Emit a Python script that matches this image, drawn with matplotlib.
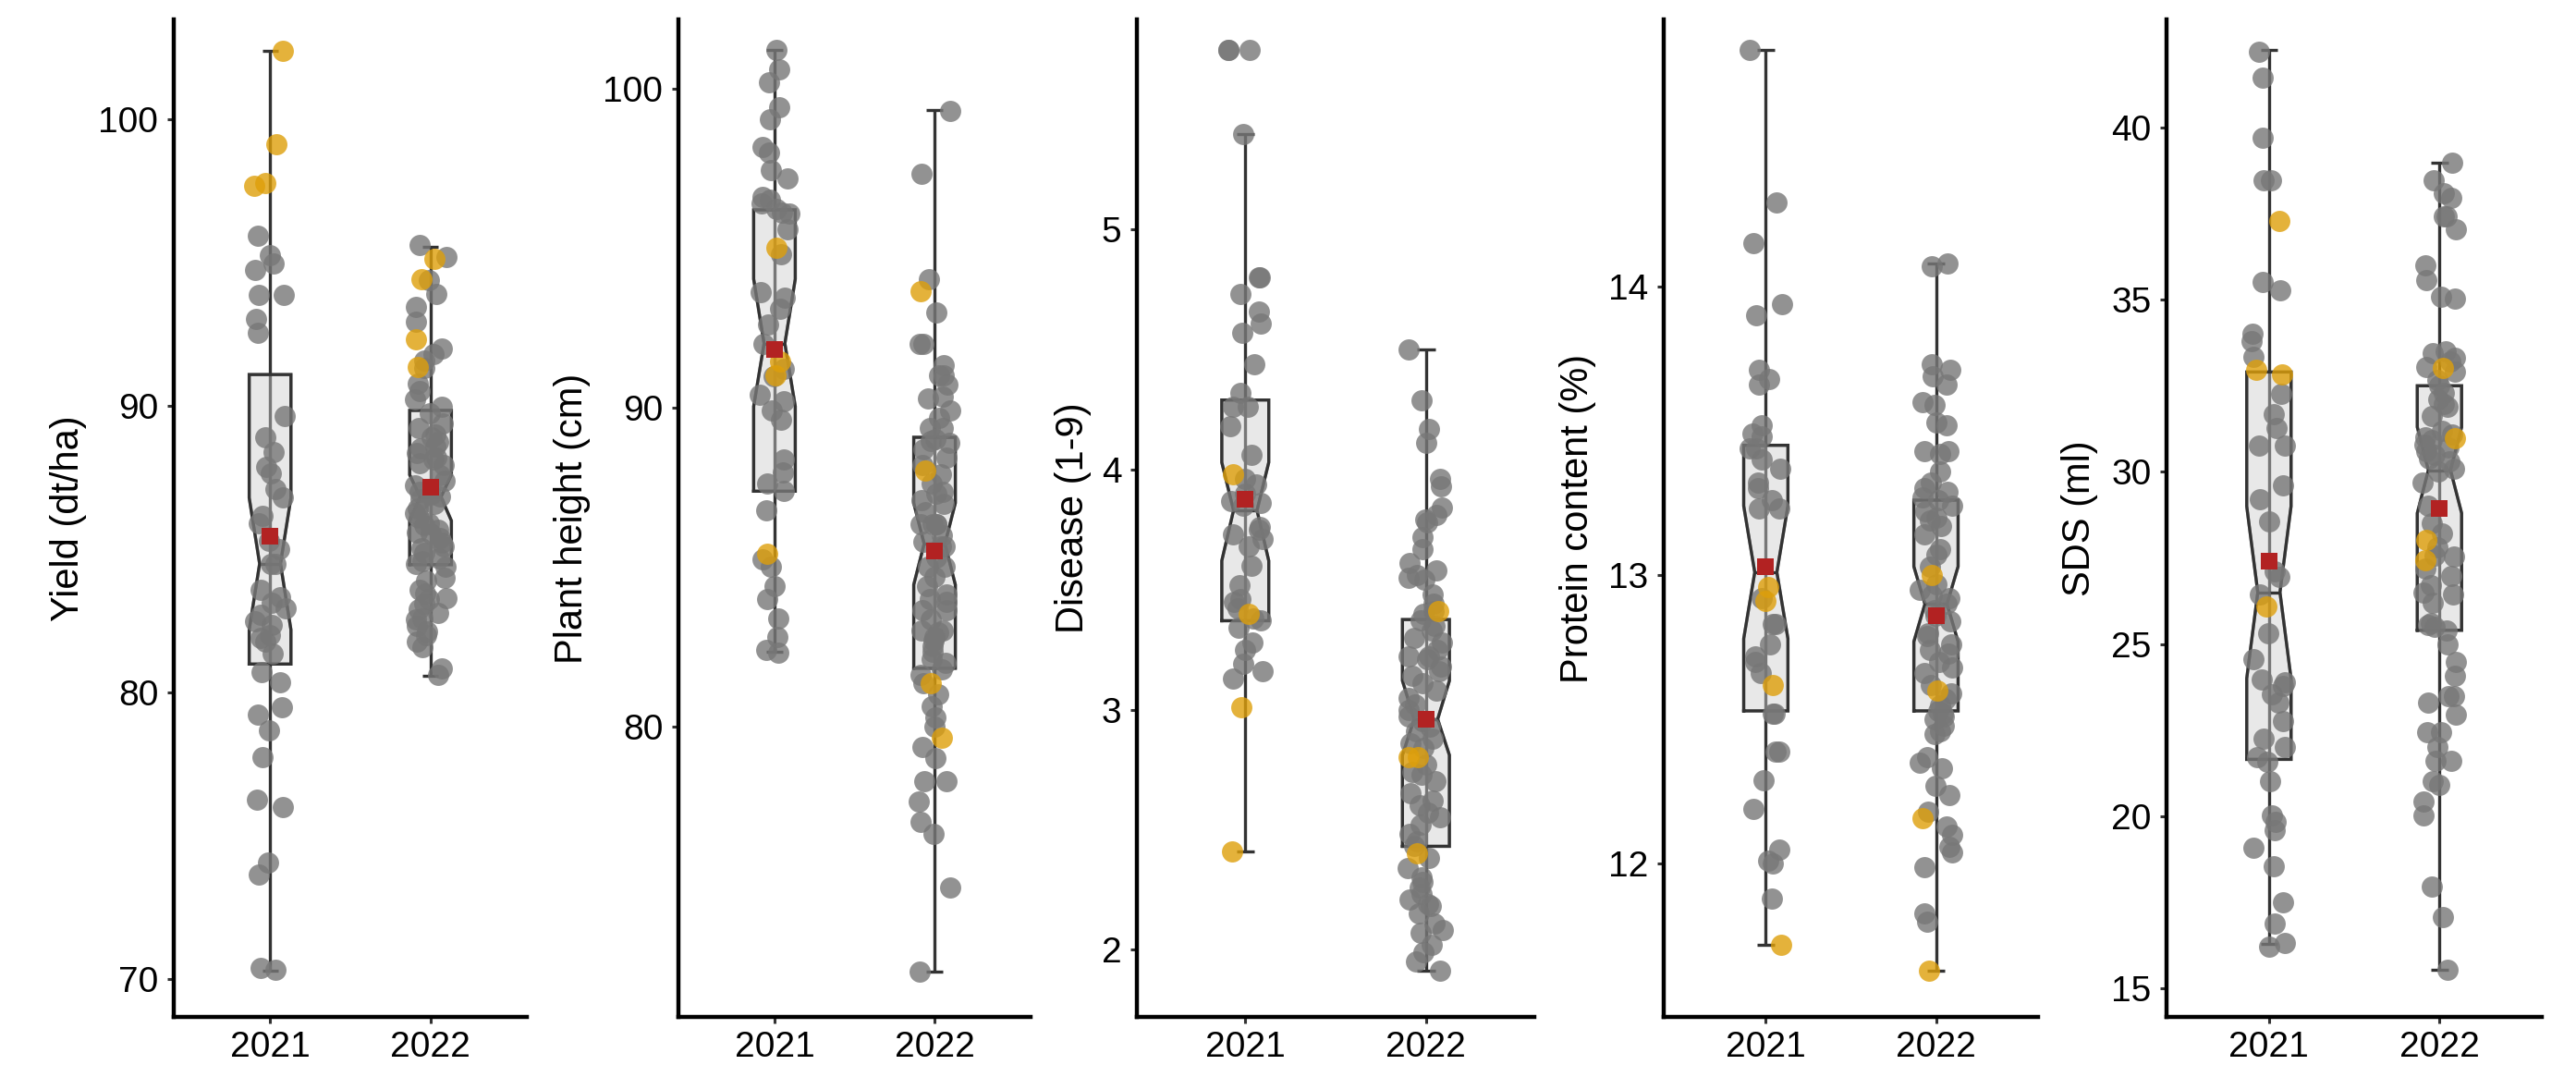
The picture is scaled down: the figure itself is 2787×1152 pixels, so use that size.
import numpy as np
import matplotlib
matplotlib.use("Agg")
import matplotlib.pyplot as plt

plt.rcParams['font.family'] = ['Liberation Sans', 'DejaVu Sans']

years = ["2021", "2022"]

# ---------------- Yield (dt/ha) ----------------
yield_2021_gray = [95.95, 95.26, 94.98, 94.74, 93.89, 93.89, 93.03, 92.56, 89.64, 88.41,
                   87.87, 87.65, 87.11, 86.16, 85.92, 85.02, 84.50, 84.50, 83.32, 83.13,
                   82.96, 82.73, 82.37, 82.01, 81.78, 81.37, 80.71, 80.36, 79.48, 79.24,
                   78.70, 77.75, 76.26, 76.02, 74.08, 73.65, 70.33, 70.40,
                   86.8, 83.6, 82.5, 81.9, 88.9, 85.3]
yield_2021_gold = [102.4, 99.15, 97.77, 97.7]
yield_2022_gray = [95.62, 95.2, 94.4, 93.9, 93.47, 92.94, 92.02, 91.81, 91.59, 91.33,
                   90.78, 90.53, 90.25, 89.98, 89.76, 89.23, 88.75, 88.53, 88.37, 88.15,
                   87.94, 87.24, 86.86, 86.75, 86.43, 86.27, 85.85, 85.69, 85.57, 85.25,
                   85.04, 84.88, 84.6, 84.39, 84.0, 83.47, 83.26, 83.1, 82.78, 82.56,
                   82.34, 82.14, 81.59, 80.84, 80.62,
                   88.9, 88.6, 88.2, 87.6, 87.4, 87.0, 86.6, 86.1, 85.9, 85.4,
                   85.1, 84.7, 84.5, 83.9, 83.6, 83.3, 82.9, 82.6, 82.0, 81.8,
                   89.4, 89.0, 88.0, 86.9, 85.6]
yield_2022_gold = [95.14, 94.44, 92.34, 91.37]
# whislo, q1, median, q3, whishi, notch low, notch high
yield_box = [[70.3, 81.0, 84.5, 91.1, 102.4, 82.2, 86.8],
             [80.6, 84.47, 86.83, 89.85, 95.57, 86.0, 87.6]]
yield_mean = [85.45, 87.17]
yield_ticks = [70, 80, 90, 100]

# ---------------- Plant height (cm) ----------------
height_2021_gray = [101.19, 100.59, 100.2, 99.42, 99.03, 98.17, 98.0, 97.43, 97.17, 96.6,
                    96.39, 96.21, 96.08, 95.57, 94.79, 93.6, 93.44, 93.08, 92.0, 90.96,
                    90.39, 90.18, 89.61, 88.37, 87.96, 87.6, 87.39, 86.77, 85.24, 84.99,
                    84.39, 83.99, 83.39, 82.8, 82.4, 82.3,
                    96.5, 96.1, 92.6, 91.2, 89.9]
height_2021_gold = [95.0, 91.43, 91.01, 85.42]
height_2022_gray = [99.3, 97.33, 94.01, 92.98, 92.0, 92.0, 91.32, 91.01, 91.0, 90.7,
                    90.34, 90.29, 89.67, 89.35, 89.35, 88.94, 88.68, 88.42, 87.9, 87.34,
                    87.3, 86.97, 86.35, 86.35, 86.34, 86.34, 85.64, 85.64, 84.99, 84.69,
                    84.14, 83.64, 83.64, 83.34, 82.99, 82.94, 82.69, 82.34, 81.99, 81.34,
                    80.99, 80.64, 80.29, 79.99, 79.34, 79.0, 78.29, 78.29, 77.64, 77.0,
                    76.64, 74.95, 72.3,
                    89.9, 89.0, 88.2, 87.6, 86.7, 86.0, 85.3, 85.0, 84.4, 83.9,
                    83.0, 82.5, 82.1, 81.8, 88.9, 87.1, 85.8, 84.0, 82.8, 81.6]
height_2022_gold = [93.65, 88.01, 81.34, 79.64]
height_box = [[82.33, 87.37, 92.0, 96.19, 101.19, 90.03, 94.02],
              [72.3, 81.82, 85.72, 89.06, 99.31, 84.44, 87.0]]
height_mean = [91.82, 85.49]
height_ticks = [80, 90, 100]

# ---------------- Disease (1-9) ----------------
disease_2021_gray = [5.75, 5.75, 5.75, 5.40, 4.80, 4.80, 4.73, 4.66, 4.61, 4.57,
                     4.44, 4.32, 4.26, 4.26, 4.18, 4.06, 3.94, 3.86, 3.85, 3.87,
                     3.76, 3.75, 3.71, 3.68, 3.60, 3.46, 3.45, 3.42, 3.38, 3.34,
                     3.28, 3.25, 3.19, 3.16, 3.13, 3.96, 3.73, 3.37, 3.90, 3.52]
disease_2021_gold = [3.98, 3.40, 3.01, 2.41]
disease_2022_gray = [4.50, 4.29, 4.17, 4.11, 3.96, 3.93, 3.84, 3.81, 3.79, 3.78,
                     3.72, 3.67, 3.61, 3.58, 3.56, 3.55, 3.54, 3.41, 3.40, 3.37,
                     3.33, 3.30, 3.22, 3.22, 3.21, 3.16, 3.11, 3.08, 3.00, 2.97,
                     2.93, 2.91, 2.86, 2.74, 2.73, 2.60, 2.57, 2.55, 2.52, 2.43,
                     2.38, 2.34, 2.30, 2.26, 2.23, 2.21, 2.19, 2.18, 2.11, 2.08,
                     2.07, 2.02, 1.99, 1.95, 1.91,
                     3.35, 3.28, 3.25, 3.18, 3.14, 3.05, 3.02, 2.95, 2.88, 2.84,
                     2.77, 2.70, 2.65, 2.62, 2.48, 2.45, 3.44, 3.48, 2.28, 2.15]
disease_2022_gold = [3.41, 2.80, 2.80, 2.40]
disease_box = [[2.41, 3.37, 3.83, 4.29, 5.40, 3.62, 4.03],
               [1.91, 2.43, 2.96, 3.375, 4.50, 2.81, 3.12]]
disease_mean = [3.876, 2.958]
disease_ticks = [2, 3, 4, 5]

# ---------------- Protein content (%) ----------------
protein_2021_gray = [14.82, 14.29, 14.15, 13.94, 13.90, 13.71, 13.68, 13.66, 13.52, 13.49,
                     13.48, 13.44, 13.44, 13.37, 13.32, 13.30, 13.26, 13.23, 13.23, 12.92,
                     12.83, 12.83, 12.76, 12.72, 12.70, 12.52, 12.52, 12.39, 12.39, 12.29,
                     12.19, 12.05, 12.0, 12.01, 11.88, 13.40, 12.66]
protein_2021_gold = [12.96, 12.91, 12.62, 11.72]
protein_2022_gray = [14.08, 14.07, 13.73, 13.71, 13.69, 13.66, 13.60, 13.59, 13.53, 13.52,
                     13.43, 13.43, 13.42, 13.36, 13.30, 13.29, 13.26, 13.24, 13.22, 13.20,
                     13.19, 13.17, 13.09, 13.07, 13.03, 12.97, 12.93, 12.92, 12.88, 12.86,
                     12.80, 12.79, 12.76, 12.74, 12.73, 12.70, 12.68, 12.66, 12.59, 12.57,
                     12.53, 12.52, 12.51, 12.45, 12.46, 12.37, 12.35, 12.33, 12.27, 12.24,
                     12.18, 12.13, 12.10, 12.06, 12.04, 11.99, 11.83, 11.80,
                     13.32, 13.27, 13.14, 12.95, 12.84, 12.62, 12.55, 12.50, 12.48, 12.90]
protein_2022_gold = [13.0, 12.60, 12.16, 11.63]
protein_box = [[11.72, 12.53, 13.01, 13.45, 14.82, 12.78, 13.24],
               [11.63, 12.53, 12.90, 13.26, 14.08, 12.77, 13.03]]
protein_mean = [13.03, 12.86]
protein_ticks = [12, 13, 14]

# ---------------- SDS (ml) ----------------
sds_2021_gray = [42.19, 41.44, 39.70, 38.48, 38.48, 35.52, 35.26, 34.0, 33.80, 33.35,
                 32.27, 31.67, 31.28, 30.75, 30.75, 29.60, 29.21, 28.56, 27.10, 26.94,
                 26.44, 25.32, 24.57, 23.98, 23.88, 23.78, 23.54, 23.29, 22.75, 22.24,
                 22.0, 21.57, 21.71, 21.02, 20.03, 19.83, 19.60, 19.08, 18.55, 17.51,
                 16.87, 16.32, 16.22]
sds_2021_gold = [37.28, 32.96, 32.84, 26.09]
sds_2022_gray = [38.97, 38.48, 38.09, 37.95, 37.43, 37.43, 37.04, 36.01, 35.58, 35.09,
                 35.03, 33.51, 33.45, 33.05, 32.66, 32.50, 32.11, 31.97, 31.63, 31.08,
                 30.92, 30.59, 30.49, 30.09, 29.01, 28.52, 27.53, 27.57, 26.98, 26.50,
                 26.44, 25.60, 25.56, 25.0, 24.47, 24.08, 23.48, 23.48, 22.95, 22.44,
                 22.44, 21.61, 21.61, 21.02, 20.92, 20.43, 20.03, 17.96, 17.07, 15.53,
                 33.3, 33.2, 32.9, 32.3, 31.9, 31.2, 31.0, 30.8, 30.7, 30.4,
                 30.3, 30.0, 29.7, 28.2, 27.8, 27.2, 26.7, 26.2, 25.5, 25.4, 23.3, 22.0]
sds_2022_gold = [33.01, 30.98, 28.02, 27.43]
sds_box = [[16.28, 21.65, 26.5, 32.90, 42.25, 24.0, 29.0],
           [15.53, 25.40, 30.05, 32.50, 38.97, 28.8, 31.3]]
sds_mean = [27.41, 28.95]
sds_ticks = [15, 20, 25, 30, 35, 40]

W, H = 2787, 1152
TOP_PX, BOT_PX = 21, 1100

panels = [
    dict(label="Yield (dt/ha)", gray=[yield_2021_gray, yield_2022_gray],
         gold=[yield_2021_gold, yield_2022_gold], box=yield_box, mean=yield_mean,
         ticks=yield_ticks, ylim=(68.69, 103.49), left=188, right=570, labx=-114),
    dict(label="Plant height (cm)", gray=[height_2021_gray, height_2022_gray],
         gold=[height_2021_gold, height_2022_gold], box=height_box, mean=height_mean,
         ticks=height_ticks, ylim=(70.89, 102.16), left=734, right=1115, labx=-115),
    dict(label="Disease (1-9)", gray=[disease_2021_gray, disease_2022_gray],
         gold=[disease_2021_gold, disease_2022_gold], box=disease_box, mean=disease_mean,
         ticks=disease_ticks, ylim=(1.719, 5.876), left=1230, right=1660, labx=-69),
    dict(label="Protein content (%)", gray=[protein_2021_gray, protein_2022_gray],
         gold=[protein_2021_gold, protein_2022_gold], box=protein_box, mean=protein_mean,
         ticks=protein_ticks, ylim=(11.470, 14.925), left=1800, right=2205, labx=-93),
    dict(label="SDS (ml)", gray=[sds_2021_gray, sds_2022_gray],
         gold=[sds_2021_gold, sds_2022_gold], box=sds_box, mean=sds_mean,
         ticks=sds_ticks, ylim=(14.17, 43.14), left=2344, right=2750, labx=-94),
]

GRAY = "#777777"
GOLD = "#DE9F0A"
RED = "#B22222"
EDGE = "#333333"
BOXFILL = "#CCCCCC"

fig = plt.figure(figsize=(W / 200, H / 200), dpi=200)
rng = np.random.default_rng(11)

positions = [1, 2]
box_w = 0.26
cap_w = 0.10
jit = 0.10

for p in panels:
    rect = [p["left"] / W, 1 - BOT_PX / H, (p["right"] - p["left"]) / W, (BOT_PX - TOP_PX) / H]
    ax = fig.add_axes(rect)
    # error bars (whiskers)
    for pos, b in zip(positions, p["box"]):
        ax.vlines(pos, b[0], b[4], color=EDGE, lw=1.2, zorder=1)
        ax.hlines([b[0], b[4]], pos - cap_w / 2, pos + cap_w / 2, color=EDGE, lw=1.2, zorder=1)
    stats = []
    for b in p["box"]:
        stats.append(dict(whislo=b[0], q1=b[1], med=b[2], q3=b[3], whishi=b[4],
                          cilo=b[5], cihi=b[6], fliers=[]))
    ax.bxp(stats, positions=positions, widths=box_w, shownotches=True, patch_artist=True,
           showfliers=False, showcaps=False,
           whiskerprops=dict(linestyle='none'),
           boxprops=dict(facecolor=BOXFILL, alpha=0.45, edgecolor=EDGE, linewidth=1.2),
           medianprops=dict(color=EDGE, linewidth=1.2), zorder=2)
    # re-draw box edges opaque
    for b, pos in zip(p["box"], positions):
        bl, br = pos - box_w / 2, pos + box_w / 2
        nl, nr = pos - box_w / 4, pos + box_w / 4
        xs = [bl, br, br, nr, br, br, bl, bl, nl, bl, bl]
        ys = [b[1], b[1], b[5], b[2], b[6], b[3], b[3], b[6], b[2], b[5], b[1]]
        ax.plot(xs, ys, color=EDGE, lw=1.2, zorder=2.5, solid_joinstyle='miter')
    # jittered points
    for pos, g, o in zip(positions, p["gray"], p["gold"]):
        g = np.asarray(g)
        o = np.asarray(o)
        xg = pos + rng.uniform(-jit, jit, len(g))
        xo = pos + rng.uniform(-jit, jit, len(o))
        ax.scatter(xg, g, s=68, color=GRAY, alpha=0.8, linewidths=0, zorder=3)
        ax.scatter(xo, o, s=68, color=GOLD, alpha=0.8, linewidths=0, zorder=3.5)
    ax.scatter(positions, p["mean"], marker='s', s=40, color=RED, linewidths=0, zorder=5)

    ax.set_xlim(0.4, 2.6)
    ax.set_ylim(*p["ylim"])
    ax.set_xticks(positions)
    ax.set_xticklabels(years)
    ax.set_yticks(p["ticks"])
    ax.set_yticklabels([str(t) for t in p["ticks"]])
    for s in ["top", "right"]:
        ax.spines[s].set_visible(False)
    for s in ["left", "bottom"]:
        ax.spines[s].set_linewidth(1.6)
        ax.spines[s].set_color("black")
    ax.tick_params(axis='both', length=2.5, width=1.1, color=EDGE, labelsize=14,
                   labelcolor='black')
    ax.tick_params(axis='y', pad=3.5)
    ax.tick_params(axis='x', pad=3)
    ax.set_ylabel(p["label"], fontsize=15, va='center')
    ax.yaxis.set_label_coords(p["labx"] / (p["right"] - p["left"]), 0.5)
    ax.patch.set_visible(False)

fig.savefig("out.png", dpi=200)
